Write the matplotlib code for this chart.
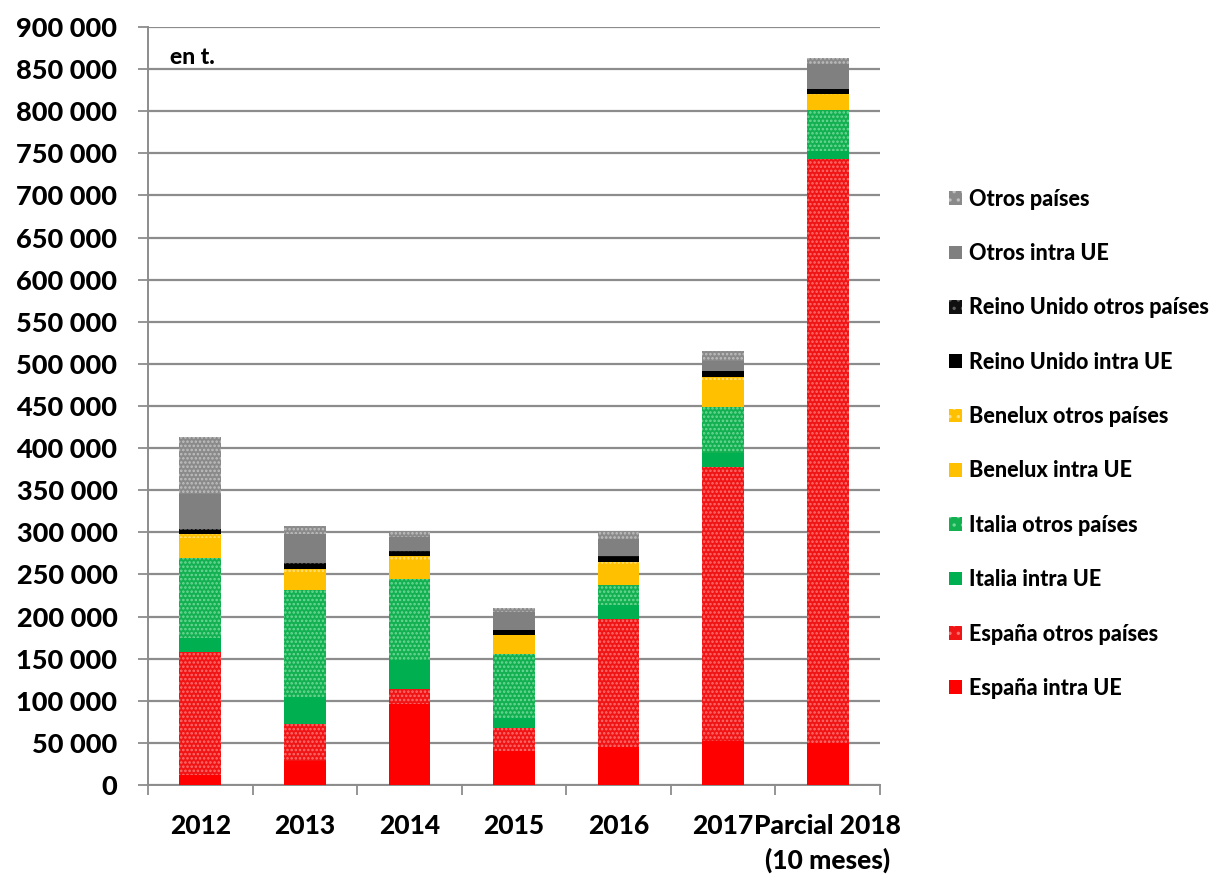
import matplotlib
matplotlib.use("Agg")
import matplotlib.pyplot as plt
import numpy as np
from matplotlib.patches import Patch

plt.rcParams['font.family'] = ['Lato', 'DejaVu Sans']
plt.rcParams['hatch.linewidth'] = 1.2

categories = ["2012", "2013", "2014", "2015", "2016", "2017", "Parcial 2018\n(10 meses)"]

espana_intra = [12000, 29000, 96000, 40000, 45000, 52000, 50000]
espana_otros = [146000, 44000, 18000, 28000, 152000, 326000, 693000]
italia_intra = [16000, 31000, 34000, 11000, 16500, 16000, 10000]
italia_otros = [96000, 128000, 96000, 76000, 23500, 55000, 48000]
benelux_intra = [23000, 20000, 22000, 22500, 25000, 32000, 18000]
benelux_otros = [5000, 5000, 6000, 1000, 3000, 3500, 1000]
ru_intra = [5000, 5000, 5000, 5000, 6000, 6500, 6000]
ru_otros = [1000, 1000, 1000, 500, 1000, 1000, 500]
otros_intra = [41500, 34500, 16000, 21000, 20000, 12000, 29500]
otros_paises = [67500, 10000, 6000, 5000, 8000, 11000, 7000]

series = [
    ("España intra UE", espana_intra, "#ff0000", None, None),
    ("España otros países", espana_otros, "#f01414", "....", "#ff7070"),
    ("Italia intra UE", italia_intra, "#00b050", None, None),
    ("Italia otros países", italia_otros, "#12b050", "....", "#70d898"),
    ("Benelux intra UE", benelux_intra, "#ffc000", None, None),
    ("Benelux otros países", benelux_otros, "#ffc000", "....", "#ffe080"),
    ("Reino Unido intra UE", ru_intra, "#000000", None, None),
    ("Reino Unido otros países", ru_otros, "#101010", "....", "#606060"),
    ("Otros intra UE", otros_intra, "#808080", None, None),
    ("Otros países", otros_paises, "#8a8a8a", "....", "#c0c0c0"),
]

W = 900  # heavy weight

fig = plt.figure(figsize=(12.25, 8.8), dpi=100)
ax = fig.add_axes([148/1225, 95/880, 732/1225, 758/880])

x = np.arange(len(categories))
bottom = np.zeros(len(categories))
handles = []
for name, vals, color, hatch, hcolor in series:
    vals = np.array(vals, dtype=float)
    if hatch:
        ax.bar(x, vals, 0.4, bottom=bottom, color=color, hatch=hatch,
               edgecolor=hcolor, linewidth=0, zorder=3)
        handles.append(Patch(facecolor=color, hatch="..", edgecolor=hcolor, linewidth=0, label=name))
    else:
        ax.bar(x, vals, 0.4, bottom=bottom, color=color, linewidth=0, zorder=3)
        handles.append(Patch(facecolor=color, linewidth=0, label=name))
    bottom += vals

ax.set_xlim(-0.5, len(categories) - 0.5)
ax.set_ylim(0, 900000)
yt = np.arange(0, 900001, 50000)
ax.set_yticks(yt)
ax.set_yticklabels([f"{int(v):,}".replace(",", " ") for v in yt],
                   fontsize=19.5, fontweight=W)
ax.yaxis.grid(True, color="#8c8c8c", linewidth=1.6, zorder=0)
ax.set_axisbelow(True)

ax.set_xticks(x)
ax.set_xticklabels(categories, fontsize=19, fontweight=W, linespacing=1.45)
ax.tick_params(axis="x", which="major", length=0, pad=21)
ax.set_xticks(np.arange(-0.5, len(categories), 1), minor=True)
ax.tick_params(axis="x", which="minor", length=7, color="#8c8c8c", width=1.3)
ax.tick_params(axis="y", length=7, color="#8c8c8c", width=1.3, pad=15)

for s in ["top", "right"]:
    ax.spines[s].set_visible(False)
for s in ["left", "bottom"]:
    ax.spines[s].set_color("#8c8c8c")
    ax.spines[s].set_linewidth(1.4)

ax.text(22/732, 1 - 20/758, "en t.", transform=ax.transAxes, fontsize=16.5, fontweight=W,
        va="top", ha="left")

leg = fig.legend(handles=handles[::-1], loc="upper left", bbox_to_anchor=(940/1225, 1 - 180/880),
                 frameon=False, prop={"size": 15.5, "weight": W},
                 handlelength=0.6, handleheight=0.6, handletextpad=0.35, labelspacing=1.55,
                 borderaxespad=0)

fig.savefig("out.png", dpi=100)
